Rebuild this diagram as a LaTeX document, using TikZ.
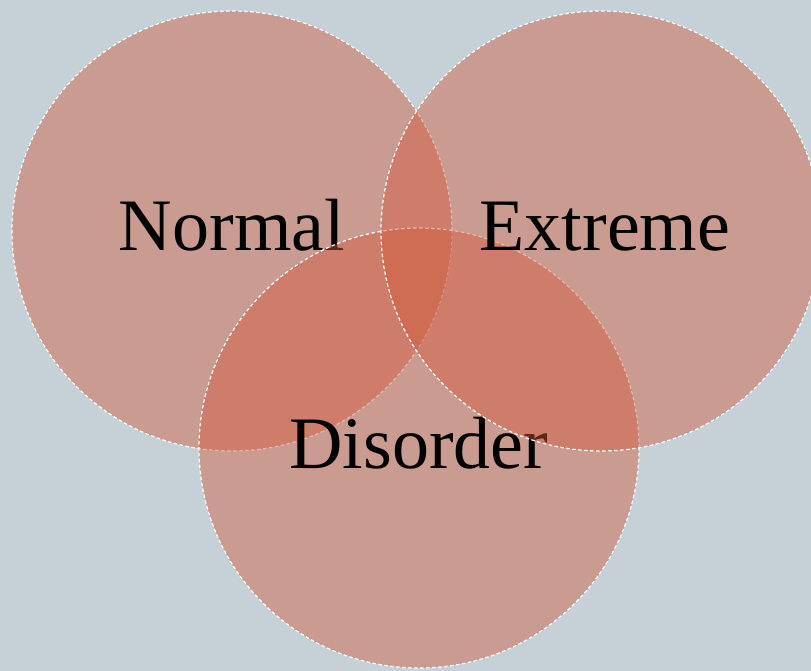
\documentclass[tikz,border=0pt]{standalone}
\usepackage{fontspec}
\setmainfont{Liberation Serif}
\usepackage{tikz}

\definecolor{backblue}{RGB}{197,209,215}
\definecolor{terra}{RGB}{210,88,57}

\begin{document}
\begin{tikzpicture}[x=1pt,y=-1pt,
  venn/.style={circle,minimum size=440pt,inner sep=0pt,fill=terra,fill opacity=0.44,
    draw=white,line width=1.2pt,dash pattern=on 3.5pt off 2.5pt},
  vennlabel/.style={anchor=base,inner sep=0pt,font=\fontsize{74}{80}\selectfont}]
\useasboundingbox (0,0) rectangle (811,671);
\fill[backblue] (0,0) rectangle (811,671);
\clip (0,0) rectangle (811,671);
\node[venn] (normal) at (232,231) {};
\node[vennlabel] (normaltext) at ([yshift=-19pt]normal.center) {Normal};
\node[venn] (disorder) at (419,448) {};
\node[vennlabel] (disordertext) at ([yshift=-20pt]disorder.center) {Disorder};
\node[venn] (extreme) at (601,231) {};
\node[vennlabel] (extremetext) at ([xshift=4pt,yshift=-19pt]extreme.center) {Extreme};
\end{tikzpicture}
\end{document}
